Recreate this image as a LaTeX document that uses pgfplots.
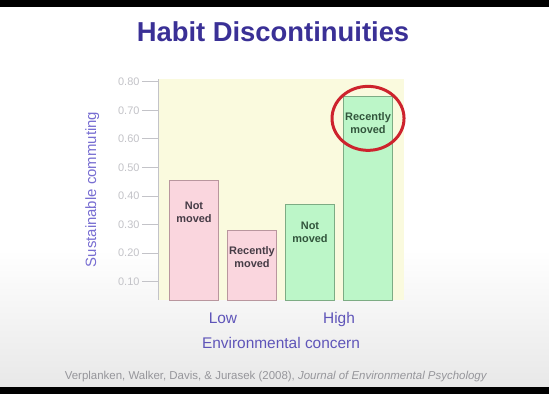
\documentclass[border=0pt]{standalone}
\usepackage{pgfplots}
\pgfplotsset{compat=1.18}
\usepackage{fontspec}
\setmainfont{Liberation Sans}
\definecolor{titleblue}{RGB}{58,48,150}
\definecolor{labblue}{RGB}{95,85,185}
\definecolor{ylabblue}{RGB}{120,110,210}
\definecolor{tickgray}{RGB}{195,195,200}
\definecolor{pinkfill}{RGB}{250,214,222}
\definecolor{pinkedge}{RGB}{185,150,158}
\definecolor{greenfill}{RGB}{188,246,200}
\definecolor{greenedge}{RGB}{125,172,132}
\definecolor{bgyellow}{RGB}{250,250,222}
\definecolor{pinktext}{RGB}{70,60,70}
\definecolor{greentext}{RGB}{50,85,60}
\definecolor{circred}{RGB}{205,35,45}
\definecolor{citegray}{RGB}{150,150,155}
\begin{document}
\begin{tikzpicture}
\useasboundingbox (0,0) rectangle (549bp,-394bp);
\fill[white] (0,0) rectangle (549bp,-394bp);
\shade[top color=white, bottom color=black!9] (0,-250bp) rectangle (549bp,-387bp);
\fill[black] (0,0) rectangle (549bp,-7bp);
\fill[black] (0,-387bp) rectangle (549bp,-394bp);
\node[font=\fontsize{27.5}{30}\selectfont\bfseries, text=titleblue] at (273bp,-32bp) {Habit Discontinuities};
\begin{axis}[
  at={(158bp,-300bp)}, anchor=south west,
  width=246bp, height=221bp, scale only axis,
  xmin=-0.62, xmax=3.62, ymin=0.035, ymax=0.81,
  ybar, bar shift=0pt, bar width=0.83,
  axis background/.style={fill=bgyellow},
  axis y line*=left, axis x line*=bottom,
  x axis line style={draw=none},
  y axis line style={draw=tickgray},
  ytick={0.1,0.2,0.3,0.4,0.5,0.6,0.7,0.8},
  yticklabel style={/pgf/number format/fixed, /pgf/number format/fixed zerofill, /pgf/number format/precision=2, font=\fontsize{11}{12}\selectfont, text=tickgray, xshift=1bp},
  /pgf/number format/assume math mode=true,
  major tick length=16bp, tick align=outside,
  ytick style={draw=tickgray, line width=0.8bp},
  xtick={0.5,2.5}, xticklabels={Low,High},
  xtick style={draw=none},
  xticklabel style={font=\fontsize{15.5}{17}\selectfont, text=labblue, yshift=7bp},
  xlabel={Environmental concern},
  xlabel style={font=\fontsize{15.5}{17}\selectfont, text=labblue, at={(axis description cs:0.5,0)}, anchor=center, yshift=-43bp},
  ylabel={Sustainable commuting},
  ylabel style={font=\fontsize{15}{17}\selectfont, text=ylabblue, yshift=12bp},
  clip=false,
]
\addplot[fill=pinkfill, draw=pinkedge, line width=1bp] coordinates {(0,0.455) (1,0.28)};
\addplot[fill=greenfill, draw=greenedge, line width=1bp] coordinates {(2,0.37) (3,0.75)};
\node[font=\fontsize{11}{13}\selectfont\bfseries, text=pinktext, align=center] at (axis cs:0,0.344) {Not\\moved};
\node[font=\fontsize{11}{13}\selectfont\bfseries, text=pinktext, align=center] at (axis cs:1,0.186) {Recently\\moved};
\node[font=\fontsize{11}{13}\selectfont\bfseries, text=greentext, align=center] at (axis cs:2,0.274) {Not\\moved};
\node[font=\fontsize{11}{13}\selectfont\bfseries, text=greentext, align=center] at (axis cs:3,0.655) {Recently\\moved};
\draw[circred, line width=3bp] (axis cs:3,0.672) ellipse [x radius=36bp, y radius=32bp];
\end{axis}
\node[font=\fontsize{11.5}{13}\selectfont, text=citegray] at (276bp,-377bp) {Verplanken, Walker, Davis, \& Jurasek (2008), \textit{Journal of Environmental Psychology}};
\end{tikzpicture}
\end{document}
